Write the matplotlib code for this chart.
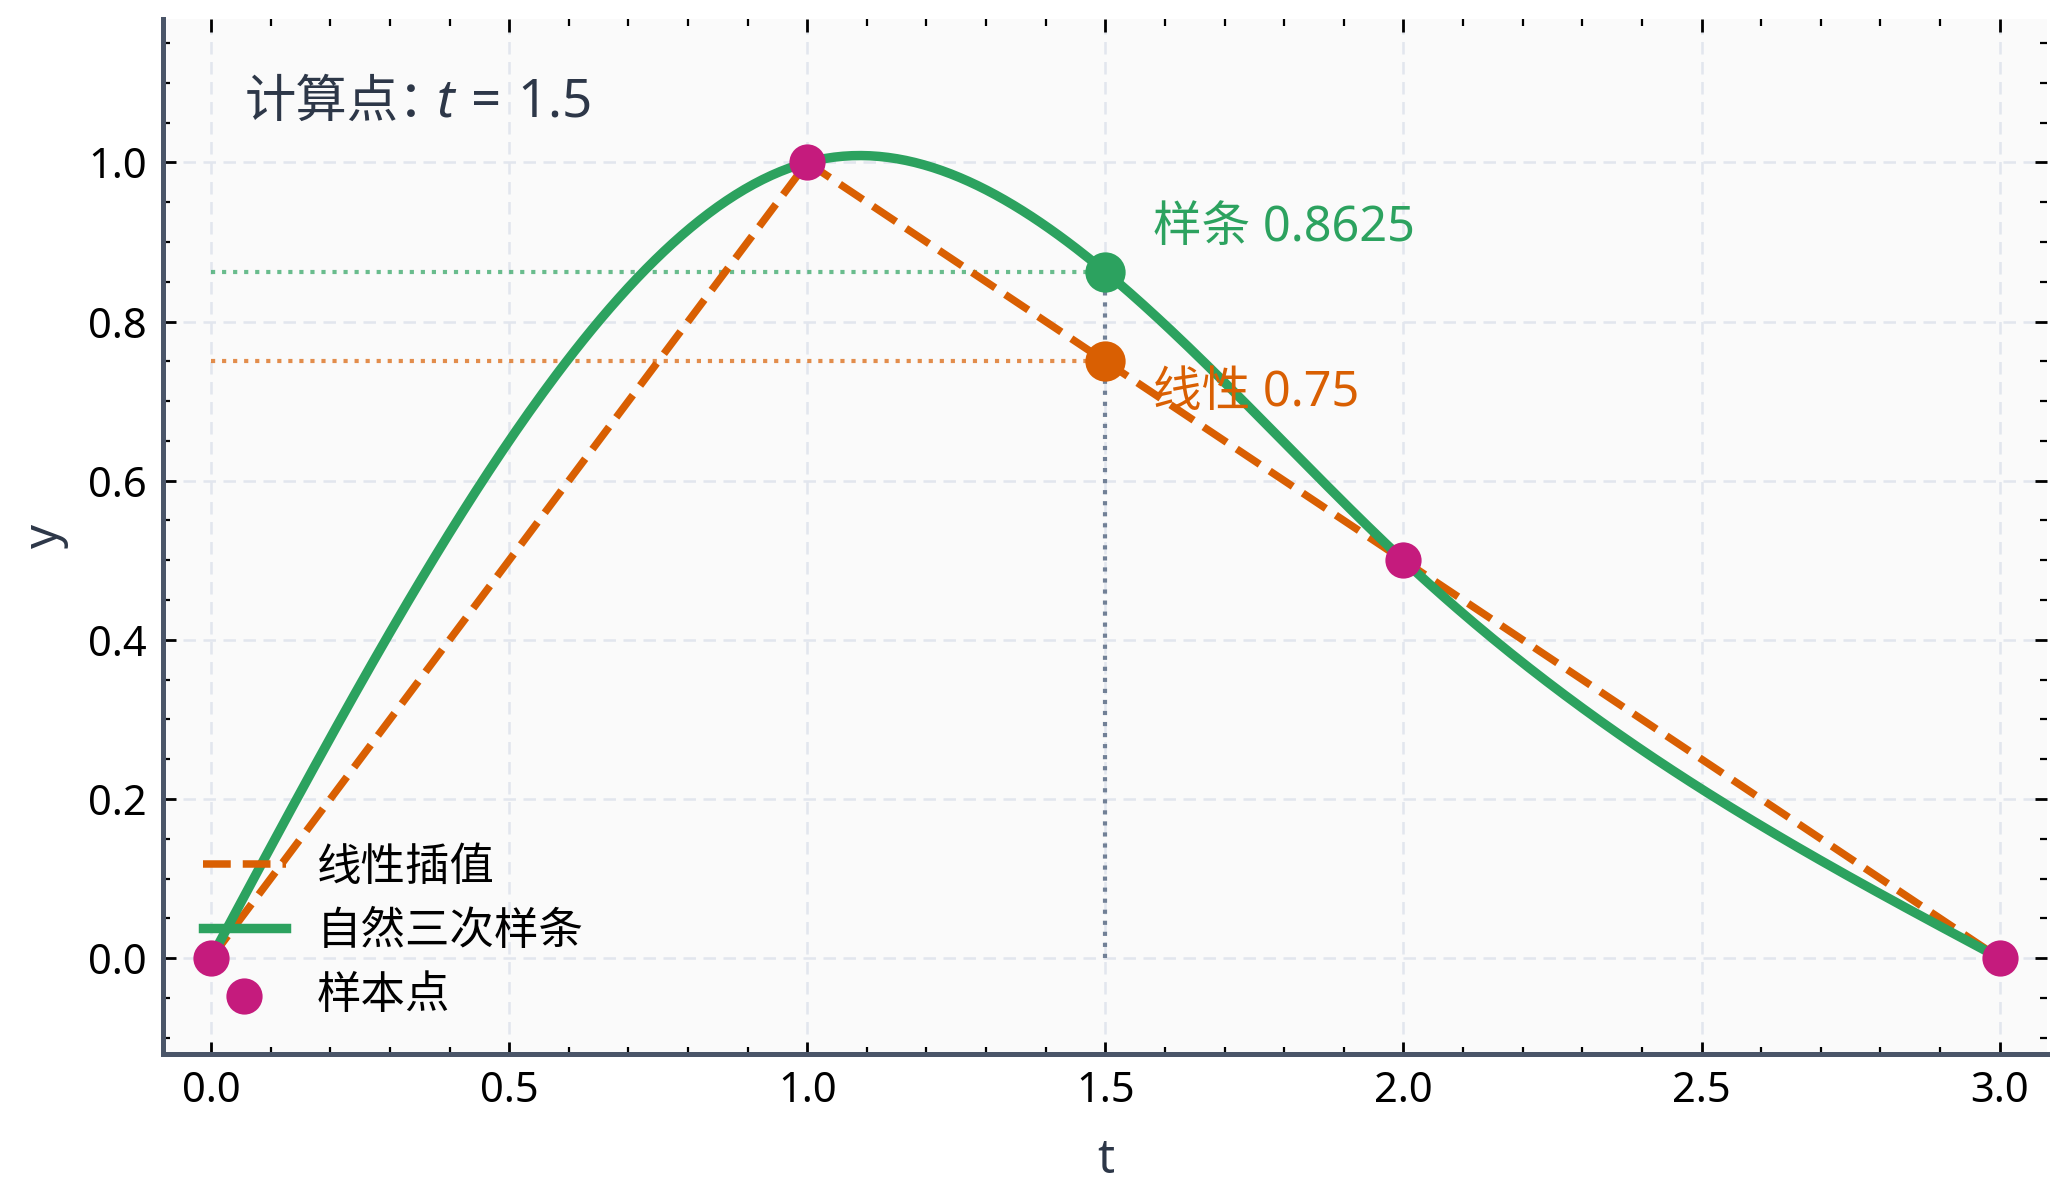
import numpy as np
import matplotlib
matplotlib.use("Agg")
import matplotlib.pyplot as plt

plt.rcParams['font.family'] = ['Noto Sans', 'Noto Sans CJK SC', 'DejaVu Sans']
plt.rcParams['mathtext.fontset'] = 'custom'
plt.rcParams['mathtext.rm'] = 'Noto Sans'
plt.rcParams['mathtext.it'] = 'Noto Sans:italic'
plt.rcParams['axes.unicode_minus'] = False

# sample points
t_pts = [0.0, 1.0, 2.0, 3.0]
y_pts = [0.0, 1.0, 0.5, 0.0]
t_eval = 1.5

labels = ['线性插值', '自然三次样条', '样本点']
xticks = [0.0, 0.5, 1.0, 1.5, 2.0, 2.5, 3.0]
yticks = [0.0, 0.2, 0.4, 0.6, 0.8, 1.0]

GREEN = '#2ca25f'
ORANGE = '#d95f02'
MAGENTA = '#c51b7d'
DARK = '#2d3748'


def natural_spline(x, y, xs):
    # natural cubic spline, second derivatives zero at the ends
    x = np.asarray(x, float)
    y = np.asarray(y, float)
    n = len(x)
    h = np.diff(x)
    A = np.zeros((n, n))
    b = np.zeros(n)
    A[0, 0] = 1
    A[-1, -1] = 1
    for i in range(1, n - 1):
        A[i, i - 1] = h[i - 1]
        A[i, i] = 2 * (h[i - 1] + h[i])
        A[i, i + 1] = h[i]
        b[i] = 6 * ((y[i + 1] - y[i]) / h[i] - (y[i] - y[i - 1]) / h[i - 1])
    M = np.linalg.solve(A, b)
    xs = np.atleast_1d(np.asarray(xs, float))
    idx = np.clip(np.searchsorted(x, xs) - 1, 0, n - 2)
    x0, x1 = x[idx], x[idx + 1]
    hh = x1 - x0
    a = (x1 - xs) / hh
    c = (xs - x0) / hh
    return (a * y[idx] + c * y[idx + 1]
            + ((a ** 3 - a) * M[idx] + (c ** 3 - c) * M[idx + 1]) * hh ** 2 / 6)


tt = np.linspace(t_pts[0], t_pts[-1], 400)
spline_y = natural_spline(t_pts, y_pts, tt)
s_val = natural_spline(t_pts, y_pts, t_eval)[0]
l_val = np.interp(t_eval, t_pts, y_pts)

fig = plt.figure(figsize=(10.34, 6), dpi=200)
ax = fig.add_axes([0.079, 0.122, 0.911, 0.862])
ax.set_facecolor('#fafafa')

ax.grid(True, linestyle=(0, (5, 3)), color='#e2e6ee', linewidth=0.9)
ax.set_axisbelow(True)

ax.plot(t_pts, y_pts, color=ORANGE, lw=2.7, ls='--', label=labels[0], zorder=3)
ax.plot(tt, spline_y, color=GREEN, lw=3.4, label=labels[1], zorder=3)
ax.scatter(t_pts, y_pts, s=170, color=MAGENTA, label=labels[2], zorder=6, linewidths=0)

# guide lines at t_eval
ax.plot([0, t_eval], [s_val, s_val], ls=':', color=GREEN, alpha=0.7, lw=1.5, zorder=2)
ax.plot([0, t_eval], [l_val, l_val], ls=':', color=ORANGE, alpha=0.7, lw=1.5, zorder=2)
ax.plot([t_eval, t_eval], [0, s_val], ls=':', color='#718096', lw=1.5, zorder=2)

ax.plot([t_eval], [s_val], 'o', color=GREEN, ms=13.5, zorder=5)
ax.plot([t_eval], [l_val], 'o', color=ORANGE, ms=13.5, zorder=5)

ax.text(1.58, s_val + 0.055, f'样条 {s_val:.4f}', color=GREEN, fontsize=17.5, va='center')
ax.text(1.58, l_val - 0.04, f'线性 {l_val:.2f}', color=ORANGE, fontsize=17.5, va='center')

# "计算点：" as plain text, the math part placed right after it
head = ax.text(0.043, 0.919, '计算点：', transform=ax.transAxes,
               fontsize=18.5, color=DARK, va='center')
ax.annotate('$t\\,=\\,1.5$', xy=(1, 0.5), xycoords=head, xytext=(-5, 0),
            textcoords='offset points', fontsize=19, color=DARK,
            va='center', ha='left')

ax.set_xlim(-0.08, 3.08)
ax.set_ylim(-0.12, 1.18)
ax.set_xticks(xticks)
ax.set_yticks(yticks)
ax.minorticks_on()
ax.tick_params(which='both', direction='in', top=True, right=True, labelsize=15,
               colors='black', pad=6)
ax.tick_params(which='major', length=4.5, width=1.0)
ax.tick_params(which='minor', length=2.5, width=0.8)

for side in ['top', 'right']:
    ax.spines[side].set_visible(False)
for side in ['left', 'bottom']:
    ax.spines[side].set_color('#4a5568')
    ax.spines[side].set_linewidth(1.8)

ax.set_xlabel('t', fontsize=17, color=DARK, labelpad=9)
ax.set_ylabel('y', fontsize=17, color=DARK, labelpad=7)

ax.legend(loc='lower left', frameon=False, fontsize=16, bbox_to_anchor=(0.0, -0.005),
          labelspacing=0.45, handlelength=1.85, handletextpad=0.7)

fig.savefig('out.png', dpi=200, facecolor='white')
